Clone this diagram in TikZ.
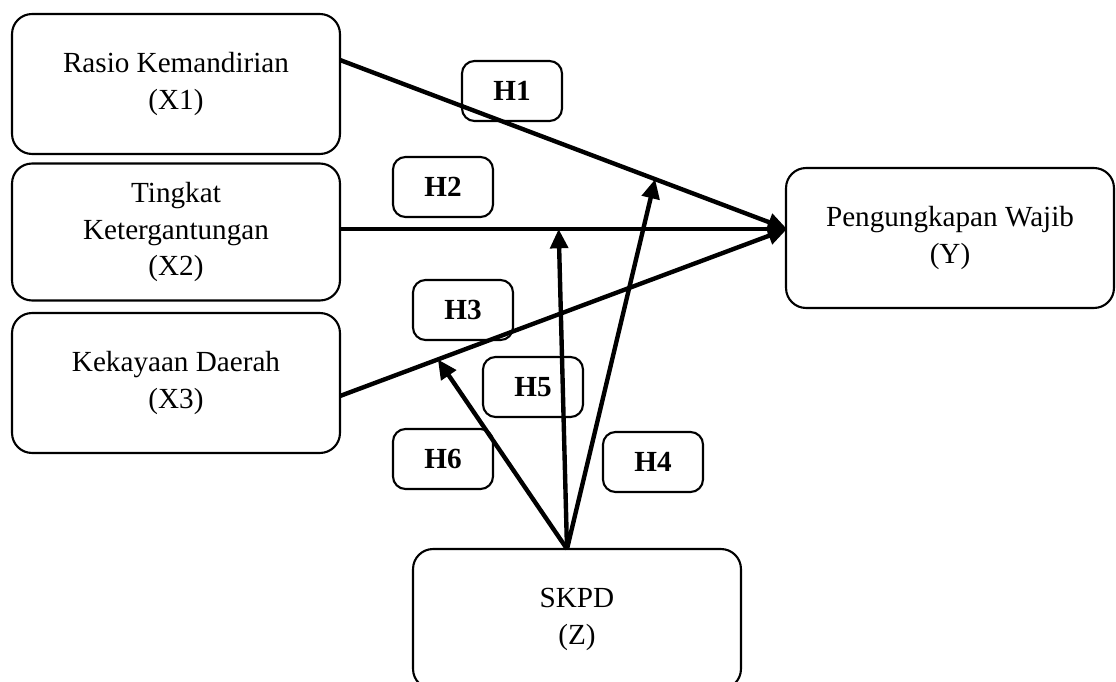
\documentclass[tikz,border=0pt]{standalone}
\usepackage{fontspec}
\setmainfont{Liberation Serif}
\usetikzlibrary{arrows.meta}

\tikzset{
  varbox/.style={draw, line width=1.2pt, rounded corners=0.4cm, minimum width=6.56cm,
    minimum height=2.8cm, align=center, font=\fontsize{16.6}{21}\selectfont},
  hypbox/.style={draw, line width=1.2pt, rounded corners=0.25cm, minimum width=2cm,
    minimum height=1.2cm, font=\fontsize{16.6}{21}\selectfont\bfseries},
  link/.style={line width=2.5pt, -{Triangle[length=11pt,width=10pt]}}
}

\begin{document}
\begin{tikzpicture}[x=0.02cm, y=-0.02cm]
    \useasboundingbox (0,0) rectangle (1116,682);

    \node[varbox] (x1) at (176,84) {Rasio Kemandirian\\(X1)};
    \node[varbox, minimum height=2.74cm] (x2) at (176,232) {Tingkat\\Ketergantungan\\(X2)};
    \node[varbox] (x3) at (176,383) {Kekayaan Daerah\\(X3)};
    \node[varbox] (y) at (950,238) {Pengungkapan Wajib\\(Y)};
    \node[varbox] (z) at (577,619) {SKPD\\(Z)};

    \node[hypbox] (h1) at (512,91) {H1};
    \node[hypbox] (h2) at (443,187) {H2};
    \node[hypbox] (h3) at (463,310) {H3};
    \node[hypbox] (h5) at (533,387) {H5};
    \node[hypbox] (h6) at (443,459) {H6};
    \node[hypbox] (h4) at (653,462) {H4};

    \coordinate (yin) at (787,229);
    \coordinate (x1out) at (340,60);
    \coordinate (x3out) at (340,396);
    \coordinate (zout) at (567,549);

    % direct effects
    \draw[link] (x1out) -- (yin);
    \draw[link] (x2.east |- yin) -- (yin);
    \draw[link] (x3out) -- (yin);

    % moderating effects
    \path (x1out) -- (yin) coordinate[pos=0.705] (t4);
    \path (x2.east |- yin) -- (yin) coordinate[pos=0.488] (t5);
    \path (x3out) -- (yin) coordinate[pos=0.219] (t6);
    \draw[link] (zout) -- (t4);
    \draw[link] (zout) -- (t5);
    \draw[link] (zout) -- (t6);

\end{tikzpicture}
\end{document}
